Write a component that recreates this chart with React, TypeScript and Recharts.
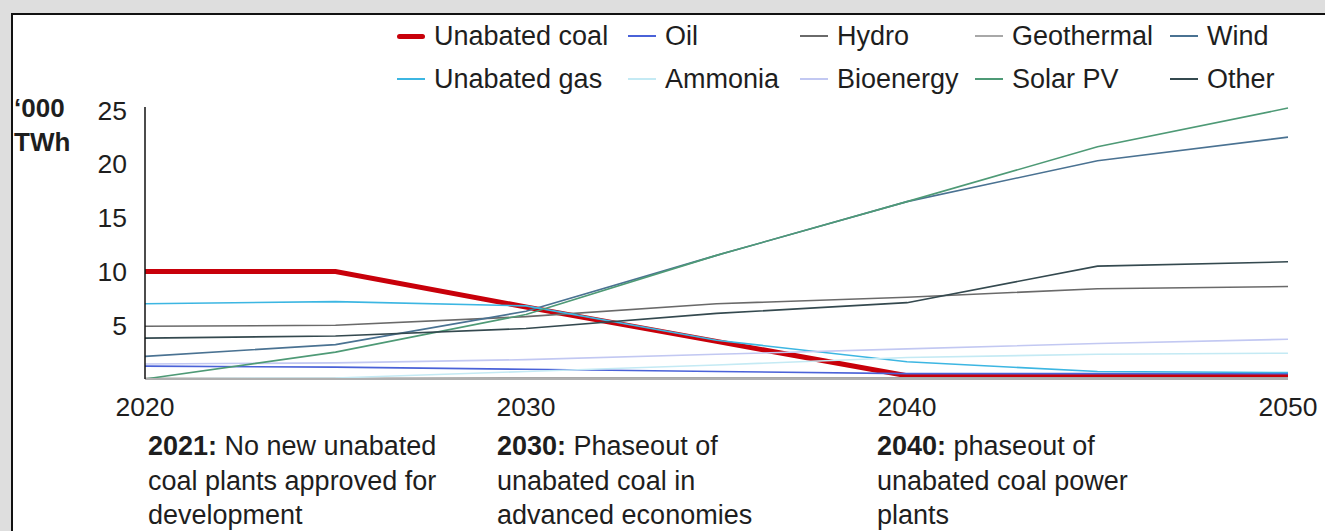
import React from "react";
import { LineChart, Line, XAxis, YAxis } from "recharts";

// Electricity generation by source, thousand TWh
const years = [2020, 2025, 2030, 2035, 2040, 2045, 2050];

const unabatedCoal = [10.0, 10.0, 6.7, 3.5, 0.3, 0.3, 0.3];
const oil = [1.2, 1.1, 0.9, 0.7, 0.5, 0.5, 0.5];
const hydro = [4.9, 5.0, 5.8, 7.0, 7.6, 8.4, 8.6];
const geothermal = [0.05, 0.05, 0.1, 0.1, 0.1, 0.1, 0.1];
const wind = [2.1, 3.2, 6.3, 11.5, 16.5, 20.3, 22.5];
const unabatedGas = [7.0, 7.2, 6.8, 3.6, 1.6, 0.7, 0.6];
const ammonia = [0.0, 0.1, 0.7, 1.3, 2.0, 2.3, 2.4];
const bioenergy = [1.4, 1.5, 1.8, 2.3, 2.8, 3.3, 3.7];
const solarPV = [0.0, 2.5, 6.0, 11.5, 16.5, 21.6, 25.2];
const other = [3.8, 4.0, 4.7, 6.1, 7.1, 10.5, 10.9];

const yTicks = [5, 10, 15, 20, 25];
const xTicks = [2020, 2030, 2040, 2050];

type Series = { key: string; name: string; values: number[]; color: string; width: number };

// Legend order: two rows of five
const series: Series[] = [
  { key: "coal", name: "Unabated coal", values: unabatedCoal, color: "#c8000a", width: 5 },
  { key: "oil", name: "Oil", values: oil, color: "#4a62d8", width: 1.6 },
  { key: "hydro", name: "Hydro", values: hydro, color: "#6a6a6a", width: 1.6 },
  { key: "geo", name: "Geothermal", values: geothermal, color: "#a8a8a8", width: 2 },
  { key: "wind", name: "Wind", values: wind, color: "#4a7292", width: 1.6 },
  { key: "gas", name: "Unabated gas", values: unabatedGas, color: "#3cb6e2", width: 1.6 },
  { key: "ammonia", name: "Ammonia", values: ammonia, color: "#c4eaf4", width: 1.6 },
  { key: "bio", name: "Bioenergy", values: bioenergy, color: "#c2c8f2", width: 1.6 },
  { key: "solar", name: "Solar PV", values: solarPV, color: "#4e9a76", width: 1.6 },
  { key: "other", name: "Other", values: other, color: "#34494f", width: 1.6 },
];

const milestones = [
  { year: "2021:", lines: [" No new unabated", "coal plants approved for", "development"] },
  { year: "2030:", lines: [" Phaseout of", "unabated coal in", "advanced economies"] },
  { year: "2040:", lines: [" phaseout of", "unabated coal power", "plants"] },
];

const rows = years.map((year, i) => {
  const row: Record<string, number> = { year };
  series.forEach((s) => {
    row[s.key] = s.values[i];
  });
  return row;
});

const FONT = "'Liberation Sans', Arial, sans-serif";
const TEXT = "#1e1e1e";
const legendColumns = [397, 628, 800, 975, 1170];
const legendRows = [36, 79];
const milestoneLeft = [148, 497, 877];

function LegendBlock() {
  return (
    <>
      {series.map((s, i) => {
        const col = i % 5;
        const row = Math.floor(i / 5);
        return (
          <div
            key={s.key}
            style={{
              position: "absolute",
              left: legendColumns[col],
              top: legendRows[row] - 17,
              height: 34,
              display: "flex",
              alignItems: "center",
              whiteSpace: "nowrap",
              fontFamily: FONT,
              fontSize: 27,
              color: TEXT,
            }}
          >
            <span
              style={{
                display: "inline-block",
                width: 28,
                height: s.width > 3 ? 5 : 1.6,
                background: s.color,
                borderRadius: s.width > 3 ? 3 : 0,
                marginRight: 9,
              }}
            />
            {s.name}
          </div>
        );
      })}
    </>
  );
}

export default function App() {
  return (
    <div
      style={{
        position: "absolute",
        left: 0,
        top: 0,
        width: 1325,
        height: 531,
        background: "#dedede",
        overflow: "hidden",
      }}
    >
      <div
        style={{
          position: "absolute",
          left: 11,
          top: 13,
          width: 1340,
          height: 540,
          background: "#ffffff",
          borderLeft: "2px solid #111",
          borderTop: "2px solid #111",
        }}
      />
      <div style={{ position: "absolute", left: 0, top: 0 }}>
        <LineChart
          width={1325}
          height={531}
          data={rows}
          margin={{ top: 107, right: 37, bottom: 112, left: 85 }}
        >
          <XAxis
            dataKey="year"
            type="number"
            domain={[2020, 2050]}
            ticks={xTicks}
            tickLine={false}
            tickSize={0}
            tickMargin={18}
            height={40}
            axisLine={{ stroke: "#b0b0b0", strokeWidth: 2 }}
            tick={{ fill: TEXT, fontSize: 26.5, fontFamily: FONT }}
          />
          <YAxis
            type="number"
            domain={[0, 25.3]}
            ticks={yTicks}
            width={60}
            tickLine={false}
            tickSize={0}
            tickMargin={18}
            axisLine={{ stroke: "#111", strokeWidth: 1.5 }}
            tick={{ fill: TEXT, fontSize: 26.5, fontFamily: FONT }}
          />
          {series.map((s) => (
            <Line
              key={s.key}
              type="linear"
              dataKey={s.key}
              name={s.name}
              stroke={s.color}
              strokeWidth={s.width}
              dot={false}
              activeDot={false}
              isAnimationActive={false}
            />
          ))}
        </LineChart>
      </div>
      <LegendBlock />
      <div
        style={{
          position: "absolute",
          left: 14,
          top: 91,
          fontFamily: FONT,
          fontWeight: "bold",
          fontSize: 26,
          lineHeight: "34px",
          color: TEXT,
        }}
      >
        <div>‘000</div>
        <div>TWh</div>
      </div>
      {milestones.map((m, i) => (
        <div
          key={m.year}
          style={{
            position: "absolute",
            left: milestoneLeft[i],
            top: 429,
            fontFamily: FONT,
            fontSize: 27,
            lineHeight: "34.5px",
            color: TEXT,
            whiteSpace: "nowrap",
          }}
        >
          <div>
            <b>{m.year}</b>
            {m.lines[0]}
          </div>
          <div>{m.lines[1]}</div>
          <div>{m.lines[2]}</div>
        </div>
      ))}
    </div>
  );
}
